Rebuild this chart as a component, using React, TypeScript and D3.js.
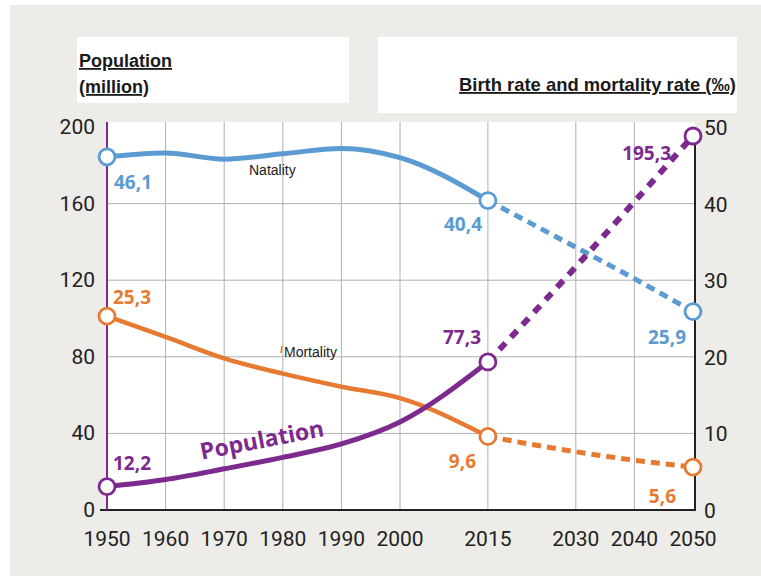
import React from "react";
import * as d3 from "d3";

const years = [1950, 1960, 1970, 1980, 1990, 2000, 2015, 2030, 2040, 2050];
const xTickYears = [1950, 1960, 1970, 1980, 1990, 2000, 2015, 2030, 2040, 2050];
const leftTicks = [0, 40, 80, 120, 160, 200];
const rightTicks = [0, 10, 20, 30, 40, 50];

// Natality (per mille, right axis)
const natalityObs = [46.1, 46.6, 45.8, 46.5, 47.2, 46.0, 40.4];
const natalityProj = [40.4, 34.3, 30.2, 25.9];
// Mortality (per mille, right axis)
const mortalityObs = [25.3, 22.6, 19.8, 17.8, 16.1, 14.6, 9.6];
const mortalityProj = [9.6, 7.6, 6.5, 5.6];
// Population (million, left axis)
const populationObs = [12.2, 15.9, 21.5, 27.5, 34.5, 46.0, 77.3];
const populationProj = [77.3, 127, 161, 195.3];

const obsYears = years.slice(0, 7);
const projYears = [2015, 2030, 2040, 2050];

const BLUE = "#5b9bd2";
const ORANGE = "#e57a30";
const PURPLE = "#7c2a8d";
const TICKFONT = "Roboto, 'Liberation Sans', sans-serif";
const BOLDFONT = "'Open Sans', 'Noto Sans', sans-serif";
const ARIAL = "'Liberation Sans', Arial, sans-serif";

export default function App() {
  const W = 761, H = 576;
  const x = d3.scaleLinear().domain([1950, 2050]).range([107, 693]);
  const yL = d3.scaleLinear().domain([0, 200]).range([510, 127]);
  const yR = d3.scaleLinear().domain([0, 50]).range([510, 127]);

  const lineR = d3.line<[number, number]>().x(d => x(d[0])).y(d => yR(d[1])).curve(d3.curveMonotoneX);
  const lineL = d3.line<[number, number]>().x(d => x(d[0])).y(d => yL(d[1])).curve(d3.curveMonotoneX);
  const zip = (ys: number[], vs: number[]) => ys.map((y, i) => [y, vs[i]] as [number, number]);

  const circle = (cx: number, cy: number, color: string, key: string) => (
    <circle key={key} cx={cx} cy={cy} r={8} fill="#fff" stroke={color} strokeWidth={2.8} />
  );

  return (
    <svg width={W} height={H} style={{ position: "absolute", left: 0, top: 0 }}>
      <rect x={0} y={0} width={W} height={H} fill="#fff" />
      <rect x={10} y={5} width={W - 10} height={H - 5} fill="#edece8" />
      {/* title boxes */}
      <rect x={77} y={37} width={272} height={66} fill="#fff" />
      <rect x={378} y={37} width={359} height={76} fill="#fff" />
      <text x={79} y={67} fontFamily={ARIAL} fontWeight="bold" fontSize={18} textDecoration="underline" fill="#1a1a1a">Population</text>
      <text x={79} y={93} fontFamily={ARIAL} fontWeight="bold" fontSize={18} textDecoration="underline" fill="#1a1a1a">(million)</text>
      <text x={736} y={91} textAnchor="end" fontFamily={ARIAL} fontWeight="bold" fontSize={18.4} textDecoration="underline" fill="#1a1a1a">Birth rate and mortality rate (‰)</text>

      {/* plot area */}
      <rect x={107} y={122} width={588} height={388} fill="#fff" />
      {/* grid */}
      {xTickYears.slice(1, -1).map(yr => (
        <line key={"vg" + yr} x1={x(yr)} x2={x(yr)} y1={122} y2={510} stroke="#b0b0b0" strokeWidth={1} />
      ))}
      {leftTicks.slice(1, -1).map(v => (
        <line key={"hg" + v} x1={107} x2={695} y1={yL(v)} y2={yL(v)} stroke="#b0b0b0" strokeWidth={1} />
      ))}
      {/* axes */}
      <line x1={100} x2={696} y1={510} y2={510} stroke="#222" strokeWidth={2} />
      <line x1={695} x2={695} y1={136} y2={511} stroke="#222" strokeWidth={2} />
      <line x1={107} x2={107} y1={122} y2={510} stroke={PURPLE} strokeWidth={2} />
      {leftTicks.map(v => (
        <text key={"lt" + v} x={95} y={yL(v) + 7} textAnchor="end" fontFamily={TICKFONT} fontSize={21} fill="#222">{v}</text>
      ))}
      {rightTicks.map(v => (
        <text key={"rt" + v} x={704} y={yR(v) + 8} textAnchor="start" fontFamily={TICKFONT} fontSize={21} fill="#222">{v}</text>
      ))}
      {xTickYears.map(yr => (
        <text key={"xt" + yr} x={x(yr)} y={546} textAnchor="middle" fontFamily={TICKFONT} fontSize={21} fill="#222">{yr}</text>
      ))}

      {/* lines */}
      <path d={lineR(zip(obsYears, natalityObs)) || ""} fill="none" stroke={BLUE} strokeWidth={5} />
      <path d={lineR(zip(projYears, natalityProj)) || ""} fill="none" stroke={BLUE} strokeWidth={5} strokeDasharray="9,6" />
      <path d={lineR(zip(obsYears, mortalityObs)) || ""} fill="none" stroke={ORANGE} strokeWidth={4.5} />
      <path d={lineR(zip(projYears, mortalityProj)) || ""} fill="none" stroke={ORANGE} strokeWidth={5} strokeDasharray="9,6" />
      <path d={lineL(zip(obsYears, populationObs)) || ""} fill="none" stroke={PURPLE} strokeWidth={5} />
      <path d={lineL(zip(projYears, populationProj)) || ""} fill="none" stroke={PURPLE} strokeWidth={6} strokeDasharray="9,8" />

      {/* circles */}
      {circle(x(1950), yR(natalityObs[0]), BLUE, "c1")}
      {circle(x(2015), yR(natalityObs[6]), BLUE, "c2")}
      {circle(x(2050), yR(natalityProj[3]), BLUE, "c3")}
      {circle(x(1950), yR(mortalityObs[0]), ORANGE, "c4")}
      {circle(x(2015), yR(mortalityObs[6]), ORANGE, "c5")}
      {circle(x(2050), yR(mortalityProj[3]), ORANGE, "c6")}
      {circle(x(1950), yL(populationObs[0]), PURPLE, "c7")}
      {circle(x(2015), yL(populationObs[6]), PURPLE, "c8")}
      {circle(x(2050), yL(populationProj[3]), PURPLE, "c9")}

      {/* value labels */}
      <g fontFamily={BOLDFONT} fontWeight="bold" fontSize={19}>
        <text x={114} y={yR(natalityObs[0]) + 32} fill={BLUE}>46,1</text>
        <text x={482} y={yR(natalityObs[6]) + 30} textAnchor="end" fill={BLUE}>40,4</text>
        <text x={686} y={yR(natalityProj[3]) + 32} textAnchor="end" fill={BLUE}>25,9</text>
        <text x={113} y={yR(mortalityObs[0]) - 12} fill={ORANGE}>25,3</text>
        <text x={476} y={yR(mortalityObs[6]) + 32} textAnchor="end" fill={ORANGE}>9,6</text>
        <text x={676} y={yR(mortalityProj[3]) + 36} textAnchor="end" fill={ORANGE}>5,6</text>
        <text x={113} y={yL(populationObs[0]) - 17} fill={PURPLE}>12,2</text>
        <text x={481} y={yL(populationObs[6]) - 18} textAnchor="end" fill={PURPLE}>77,3</text>
        <text x={671} y={yL(populationProj[3]) + 24} textAnchor="end" fill={PURPLE}>195,3</text>
      </g>
      <text x={262} y={448} textAnchor="middle" fontFamily={BOLDFONT} fontWeight="bold" fontSize={23} fill={PURPLE} transform="rotate(-11 262 440)">Population</text>
      <text x={249} y={175} fontFamily={ARIAL} fontSize={14} fill="#222">Natality</text>
      <line x1={282} x2={281} y1={346} y2={353} stroke={ORANGE} strokeWidth={1.5} />
      <text x={284} y={357} fontFamily={ARIAL} fontSize={14} fill="#222">Mortality</text>
    </svg>
  );
}
